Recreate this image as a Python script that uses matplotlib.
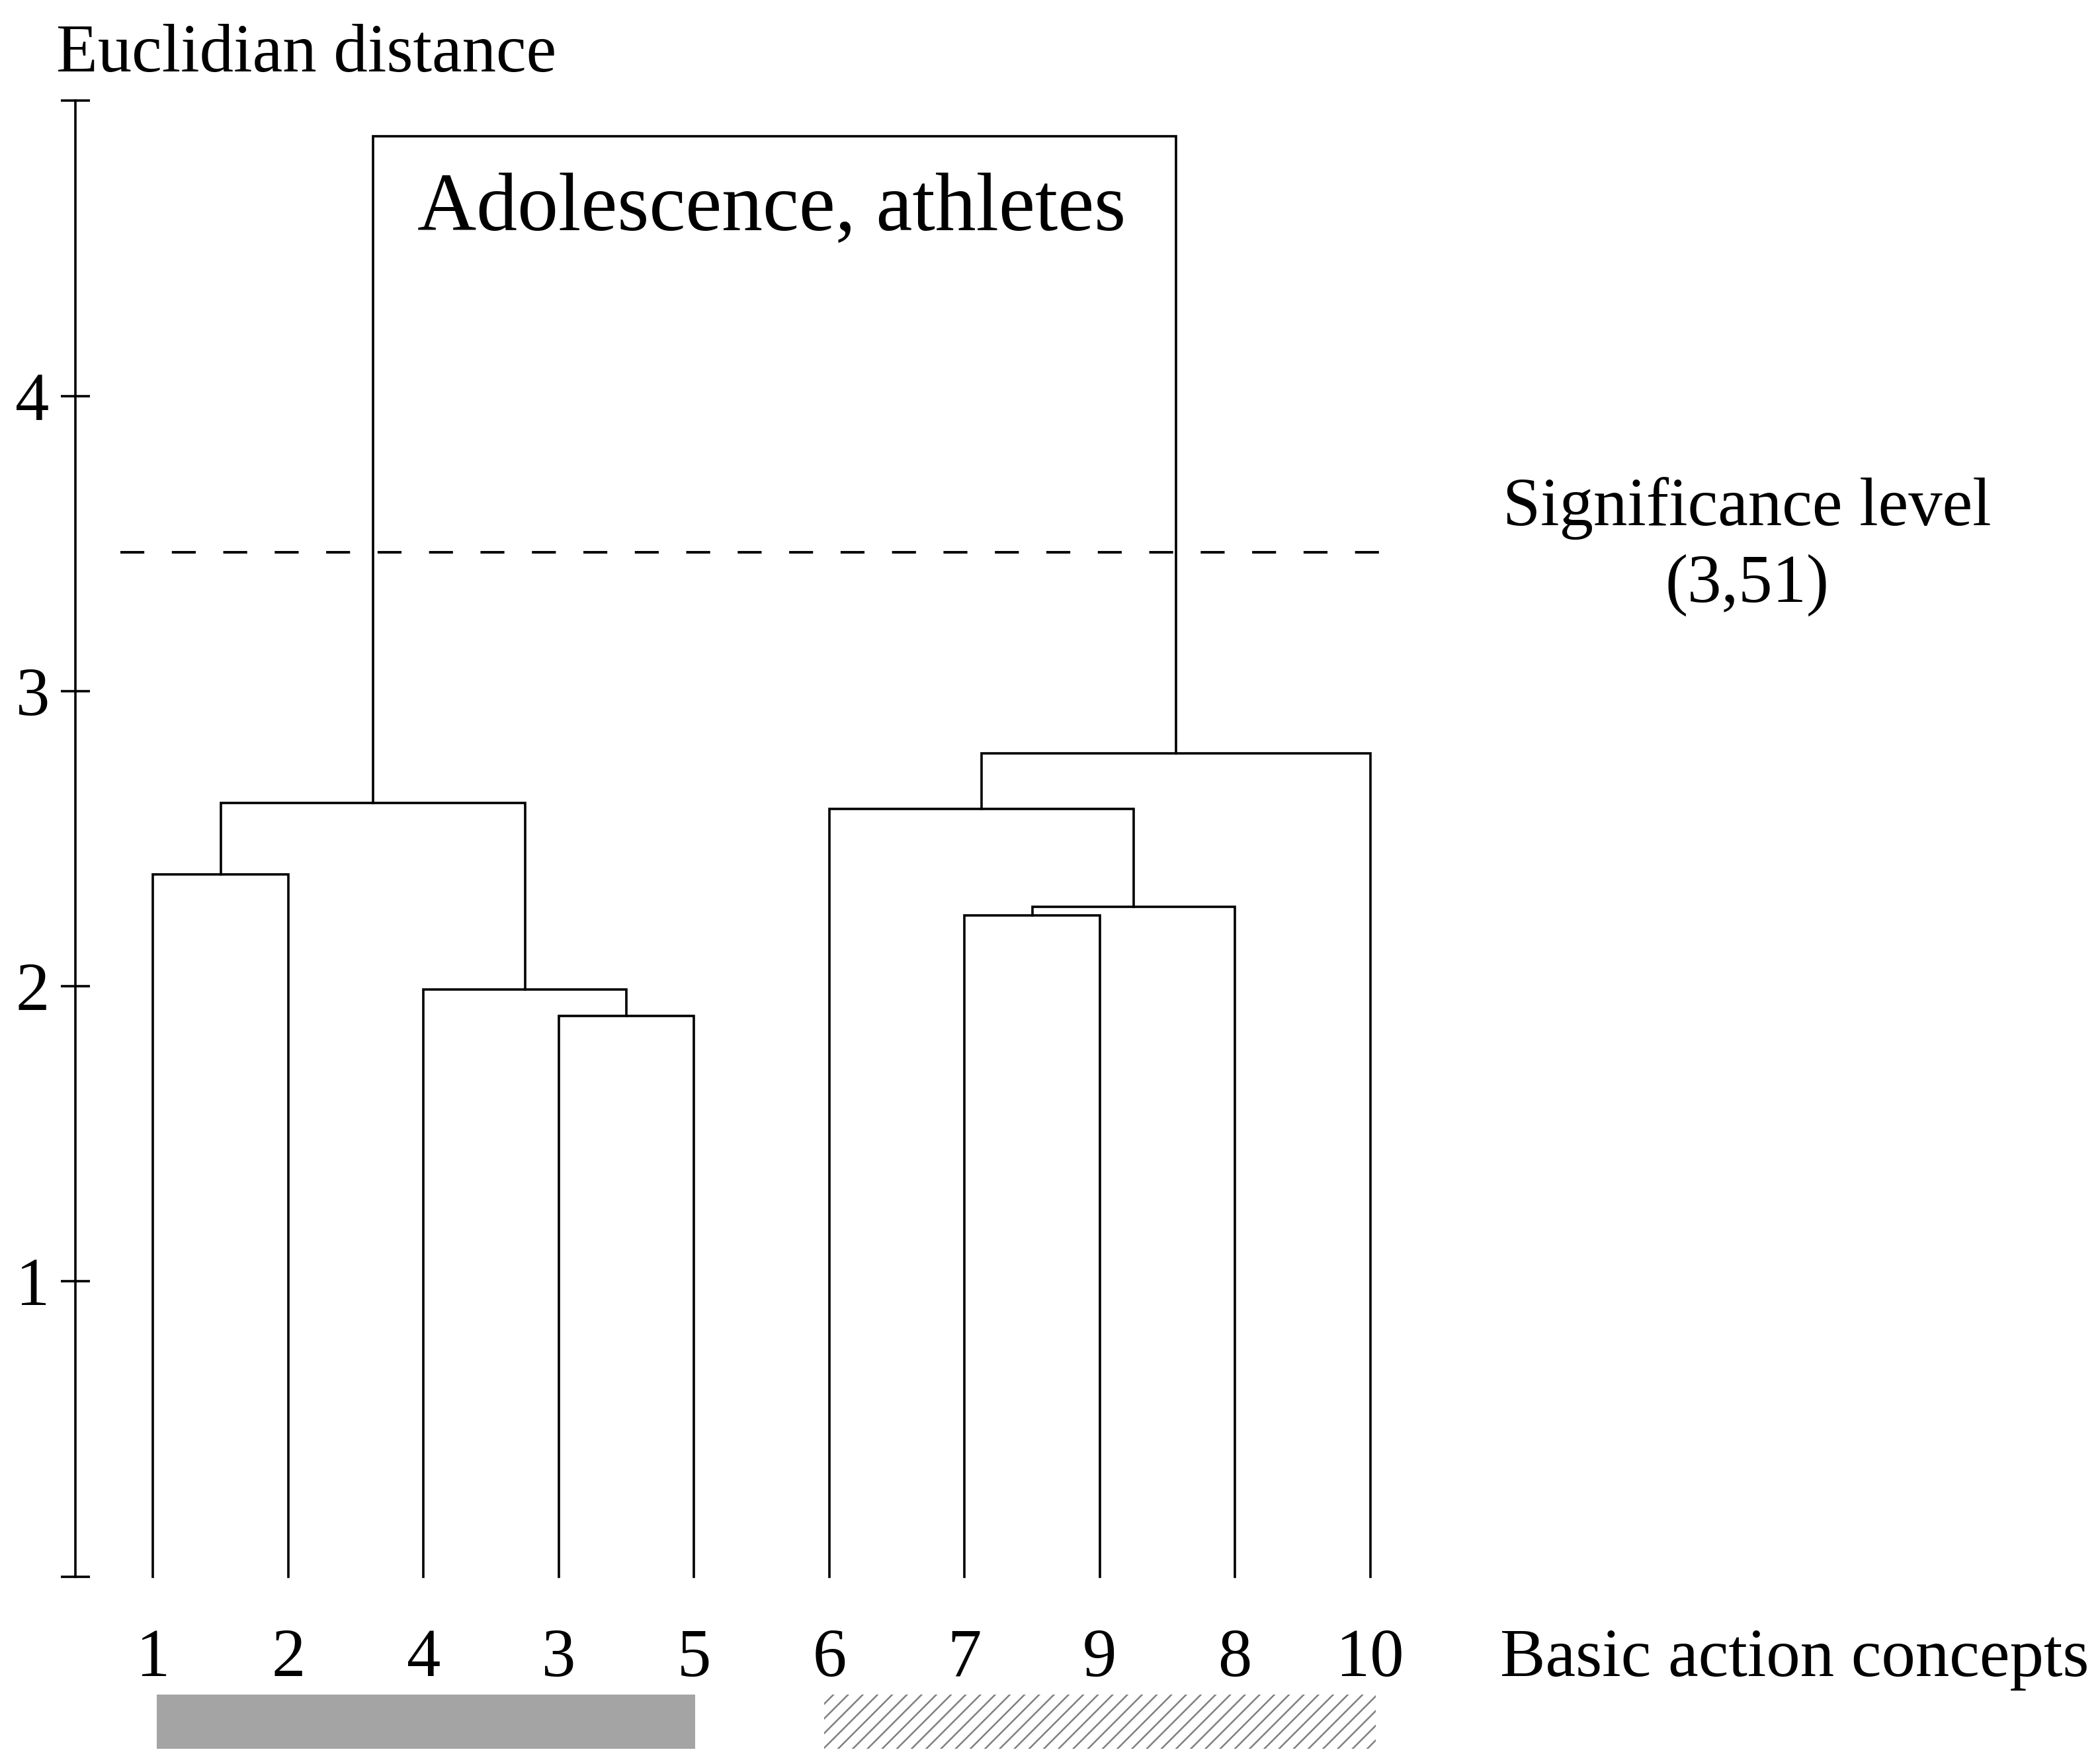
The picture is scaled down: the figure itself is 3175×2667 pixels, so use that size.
import matplotlib
matplotlib.use("Agg")
import matplotlib.pyplot as plt
from matplotlib.patches import Rectangle

# leaves in the order they appear along the bottom
leaf_labels = ['1', '2', '4', '3', '5', '6', '7', '9', '8', '10']

# merges: (left node, right node, height); nodes 0-9 are leaves, new nodes start at 10
merge_left = [0, 3, 2, 10, 6, 14, 5, 16, 13]
merge_right = [1, 4, 11, 12, 7, 8, 15, 9, 17]
merge_height = [2.38, 1.90, 1.99, 2.62, 2.24, 2.27, 2.60, 2.79, 4.88]

sig_level = 3.47
sig_text = 'Significance level\n(3,51)'

y_ticks = [0, 1, 2, 3, 4, 5]
y_ticklabels = ['', '1', '2', '3', '4', '']

# groups marked under the leaves: (first leaf, last leaf)
group_solid = (0, 4)
group_hatched = (5, 9)

plt.rcParams['font.family'] = ['Liberation Serif', 'DejaVu Serif']
plt.rcParams['hatch.linewidth'] = 0.9

fig = plt.figure(figsize=(15.875, 13.335), dpi=200)
ax = fig.add_axes([0, 0, 1, 1])
ax.set_xlim(-1.131, 14.395)
ax.set_ylim(-0.6345, 5.341)

lw = 1.3
xpos = {i: float(i) for i in range(len(leaf_labels))}
ypos = {i: 0.0 for i in range(len(leaf_labels))}
node = len(leaf_labels)
for l, r, h in zip(merge_left, merge_right, merge_height):
    ax.plot([xpos[l], xpos[l], xpos[r], xpos[r]], [ypos[l], h, h, ypos[r]],
            color='black', lw=lw, solid_joinstyle='miter')
    xpos[node] = (xpos[l] + xpos[r]) / 2
    ypos[node] = h
    node += 1

ax.plot([-0.24, 9.24], [sig_level, sig_level], color='black', lw=1.4,
        dashes=(9.3, 10.7))

# y axis as a single spine with crossing ticks
for s in ['top', 'right', 'bottom']:
    ax.spines[s].set_visible(False)
ax.spines['left'].set_position(('data', -0.575))
ax.spines['left'].set_bounds(0, 5)
ax.spines['left'].set_linewidth(lw)
ax.set_yticks(y_ticks)
ax.set_yticklabels(y_ticklabels)
ax.tick_params(axis='y', direction='inout', length=16, width=lw,
               labelsize=37, pad=6)
ax.set_xticks([])

for i, lab in enumerate(leaf_labels):
    ax.text(i, -0.28, lab, ha='center', va='center', fontsize=37)

ax.add_patch(Rectangle((group_solid[0] + 0.03, -0.582),
                       group_solid[1] - group_solid[0] - 0.02, 0.182,
                       facecolor='#a4a4a4', edgecolor='none'))
ax.add_patch(Rectangle((group_hatched[0] - 0.04, -0.582),
                       group_hatched[1] - group_hatched[0] + 0.08, 0.182,
                       facecolor='white', edgecolor='#808080', lw=0,
                       hatch='///'))

ax.text(-0.714, 5.155, 'Euclidian distance', ha='left', va='center', fontsize=37)
ax.text(4.575, 4.63, 'Adolescence, athletes', ha='center', va='center',
        fontsize=44.5)
ax.text(11.786, 3.49, sig_text, ha='center', va='center', fontsize=37,
        linespacing=1.3)
ax.text(9.96, -0.28, 'Basic action concepts', ha='left', va='center',
        fontsize=37)

fig.savefig('out.png', dpi=200)
